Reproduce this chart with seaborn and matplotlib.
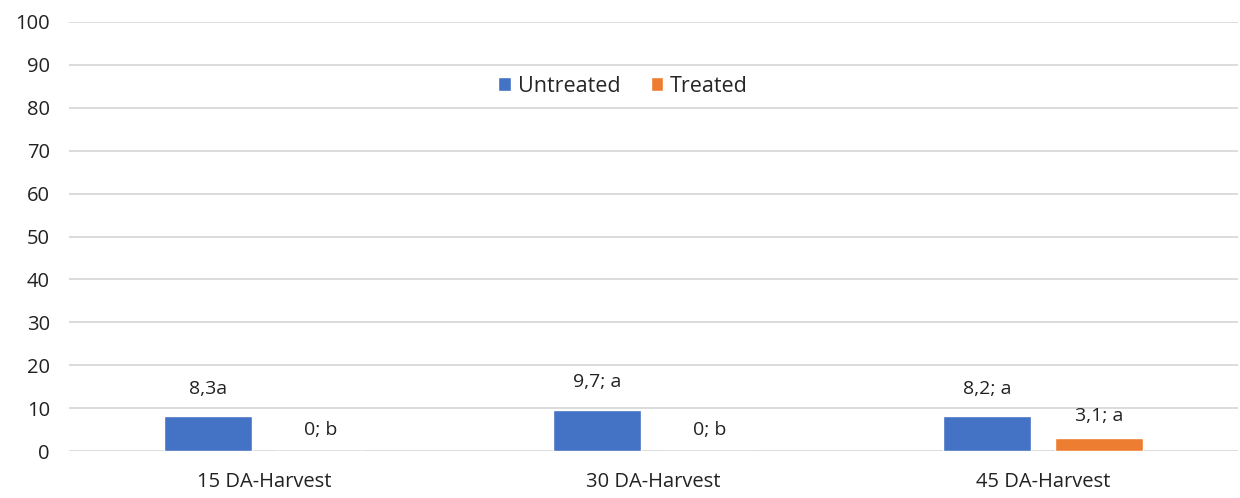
import pandas as pd
import matplotlib.pyplot as plt
import seaborn as sns

# data
categories = ['15 DA-Harvest', '30 DA-Harvest', '45 DA-Harvest']
untreated = [8.3, 9.7, 8.2]
treated = [0, 0, 3.1]
untreated_labels = ['8,3a', '9,7; a', '8,2; a']
treated_labels = ['0; b', '0; b', '3,1; a']

df = pd.DataFrame({
    'cat': categories * 2,
    'value': untreated + treated,
    'group': ['Untreated'] * 3 + ['Treated'] * 3,
})

sns.set_style('white')
plt.rcParams['font.family'] = ['Open Sans', 'DejaVu Sans']

fig = plt.figure(figsize=(12.4, 4.98), dpi=100)
ax = fig.add_axes([0.056, 0.094, 0.942, 0.862])

sns.barplot(data=df, x='cat', y='value', hue='group', ax=ax,
            palette={'Untreated': '#4472C4', 'Treated': '#ED7D31'},
            width=0.576, gap=0.215, saturation=1, errorbar=None)

ax.bar_label(ax.containers[0], labels=untreated_labels, padding=13, fontsize=14, color='#222222')
ax.bar_label(ax.containers[1], labels=treated_labels, padding=9, fontsize=14, color='#222222')

ax.set_ylim(0, 100)
ax.set_yticks(range(0, 101, 10))
ax.yaxis.grid(True, color='#D9D9D9', linewidth=1.3)
ax.set_axisbelow(True)
for s in ax.spines.values():
    s.set_visible(False)
ax.tick_params(axis='both', length=0, labelsize=14.5, colors='#222222')
ax.tick_params(axis='x', pad=15)
ax.tick_params(axis='y', pad=14)
ax.set_xlabel('')
ax.set_ylabel('')

ax.legend(loc='center', bbox_to_anchor=(0.474, 0.85), ncol=2, frameon=False,
          fontsize=15.5, handlelength=0.6, handleheight=0.6, handletextpad=0.3,
          columnspacing=1.4)

fig.savefig('out.png', dpi=100)
